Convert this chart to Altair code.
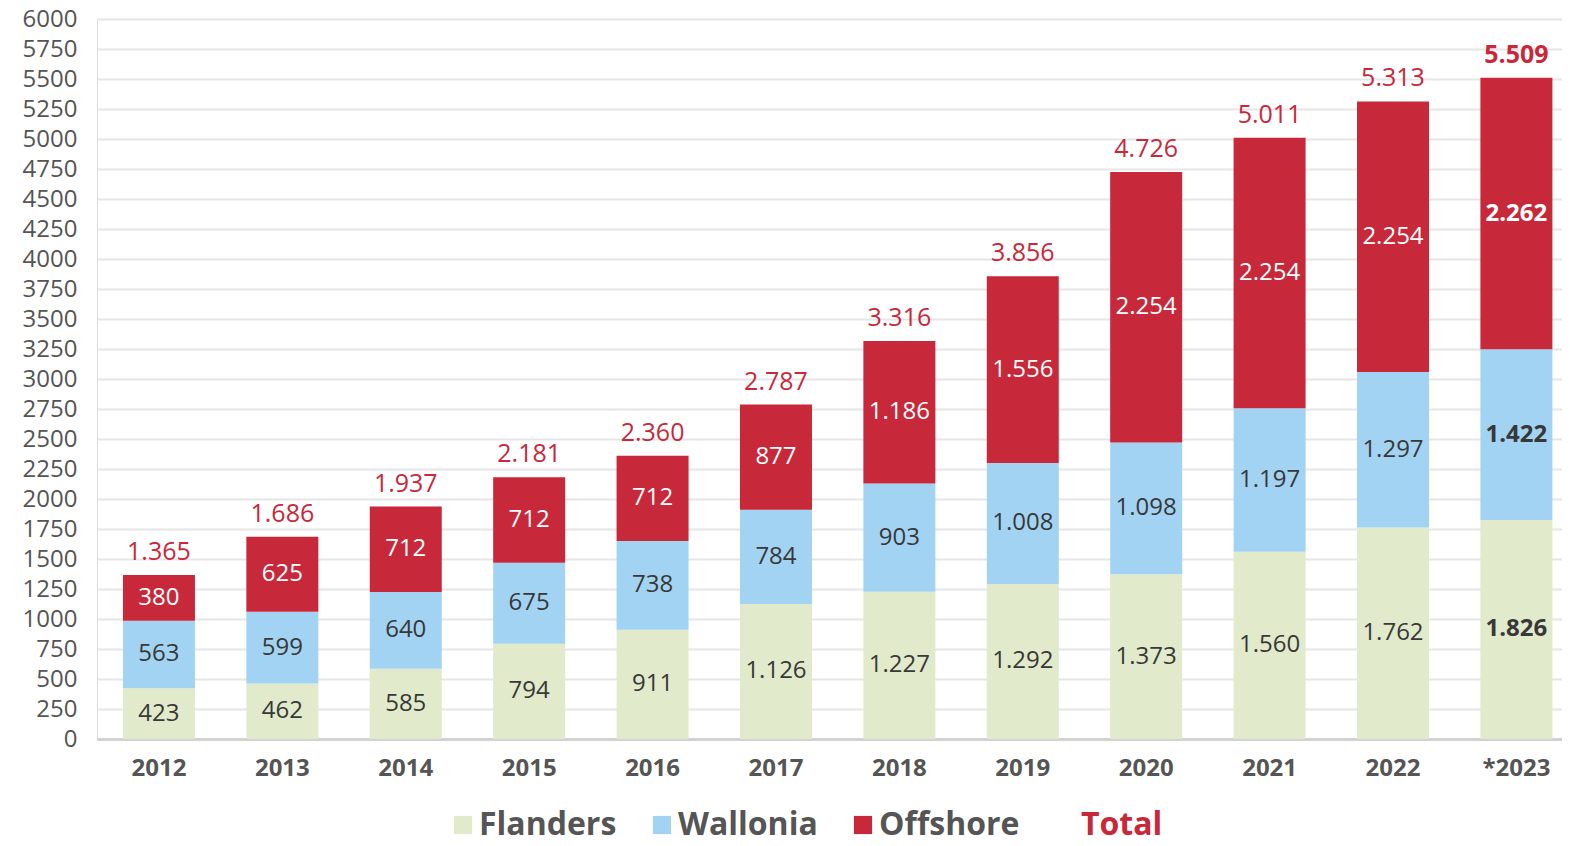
import altair as alt
import pandas as pd

YEARS = ["2012", "2013", "2014", "2015", "2016", "2017", "2018", "2019", "2020", "2021", "2022", "*2023"]
FLANDERS = [423, 462, 585, 794, 911, 1126, 1227, 1292, 1373, 1560, 1762, 1826]
WALLONIA = [563, 599, 640, 675, 738, 784, 903, 1008, 1098, 1197, 1297, 1422]
OFFSHORE = [380, 625, 712, 712, 712, 877, 1186, 1556, 2254, 2254, 2254, 2262]
TOTALS = [1365, 1686, 1937, 2181, 2360, 2787, 3316, 3856, 4726, 5011, 5313, 5509]
SERIES = ["Flanders", "Wallonia", "Offshore"]
LEGEND_ITEMS = ["Flanders", "Wallonia", "Offshore", "Total"]
COLORS = ["#e1eacb", "#a3d3f2", "#c8293a", "transparent"]
LABEL_COLORS = ["#383838", "#383838", "#ffffff"]
Y_TICKS = list(range(0, 6001, 250))

rows = []
for i, y in enumerate(YEARS):
    for k, (s, vals) in enumerate(zip(SERIES, [FLANDERS, WALLONIA, OFFSHORE])):
        rows.append({"year": y, "series": s, "value": vals[i], "order": k,
                     "lcolor": LABEL_COLORS[k], "last": y == YEARS[-1]})
df = pd.DataFrame(rows)
tdf = pd.DataFrame({"year": YEARS, "total": TOTALS,
                    "last": [y == YEARS[-1] for y in YEARS]})

FONT = "Open Sans"
RED = "#c8283a"

x = alt.X("year:N", sort=YEARS, title=None,
          scale=alt.Scale(paddingInner=0.4165, paddingOuter=0.144, align=0.73),
          axis=alt.Axis(labelFont=FONT, labelFontSize=24, labelFontWeight="bold",
                        labelColor="#555555", labelPadding=17, ticks=False,
                        domainColor="#d2d2d2", domainWidth=3, labelAngle=0))

y_scale = alt.Scale(domain=[0, 6000], nice=False)
y_axis = alt.Axis(values=Y_TICKS, format="d", labelOverlap=False,
                  labelFont=FONT, labelFontSize=24,
                  labelColor="#555555", labelPadding=20, ticks=False,
                  domain=False, gridColor="#e6e6e6", gridWidth=2)

base = alt.Chart(df)

bars = base.mark_bar().encode(
    x=x,
    y=alt.Y("value:Q", stack="zero", title=None, scale=y_scale, axis=y_axis),
    color=alt.Color("series:N",
                    scale=alt.Scale(domain=LEGEND_ITEMS, range=COLORS),
                    legend=alt.Legend(title=None, orient="none", legendX=350, legendY=790,
                                      direction="horizontal", columns=4,
                                      symbolType="square", symbolSize=330,
                                      symbolStrokeWidth=0, labelFont=FONT,
                                      labelFontSize=32, labelFontWeight="bold",
                                      labelColor=alt.ExprRef("datum.label == 'Total' ? '#c8283a' : '#555555'"),
                                      labelOffset=0, columnPadding=29, labelLimit=300)),
    order=alt.Order("order:Q"),
)

seg = base.transform_stack(
    stack="value", groupby=["year"], as_=["v0", "v1"],
    sort=[alt.SortField("order", "ascending")]
).transform_calculate(
    mid="(datum.v0 + datum.v1) / 2",
    label="replace(format(datum.value, ','), ',', '.')"
)

seg_normal = seg.transform_filter("!datum.last").mark_text(
    font=FONT, fontSize=24, baseline="middle").encode(
    x=x, y=alt.Y("mid:Q", scale=y_scale, axis=y_axis), text="label:N",
    color=alt.Color("lcolor:N", scale=None))

seg_bold = seg.transform_filter("datum.last").mark_text(
    font=FONT, fontSize=24, fontWeight="bold", baseline="middle").encode(
    x=x, y=alt.Y("mid:Q", scale=y_scale, axis=y_axis), text="label:N",
    color=alt.Color("lcolor:N", scale=None))

totals = alt.Chart(tdf).transform_calculate(
    label="replace(format(datum.total, ','), ',', '.')"
)

tot_normal = totals.transform_filter("!datum.last").mark_text(
    font=FONT, fontSize=25, color=RED, baseline="alphabetic", dy=-15).encode(
    x=x, y=alt.Y("total:Q", scale=y_scale, axis=y_axis), text="label:N")

tot_bold = totals.transform_filter("datum.last").mark_text(
    font=FONT, fontSize=25, fontWeight="bold", color=RED, baseline="alphabetic", dy=-15).encode(
    x=x, y=alt.Y("total:Q", scale=y_scale, axis=y_axis), text="label:N")

chart = alt.layer(bars, seg_normal, seg_bold, tot_normal, tot_bold).properties(
    width=1465, height=720,
    autosize=alt.AutoSizeParams(type="none"),
    padding={"left": 89, "top": 11, "right": 0, "bottom": 99},
).configure_view(stroke=None).configure(background="white")

chart.save("out.html", embed_options={"renderer": "svg", "actions": False})
